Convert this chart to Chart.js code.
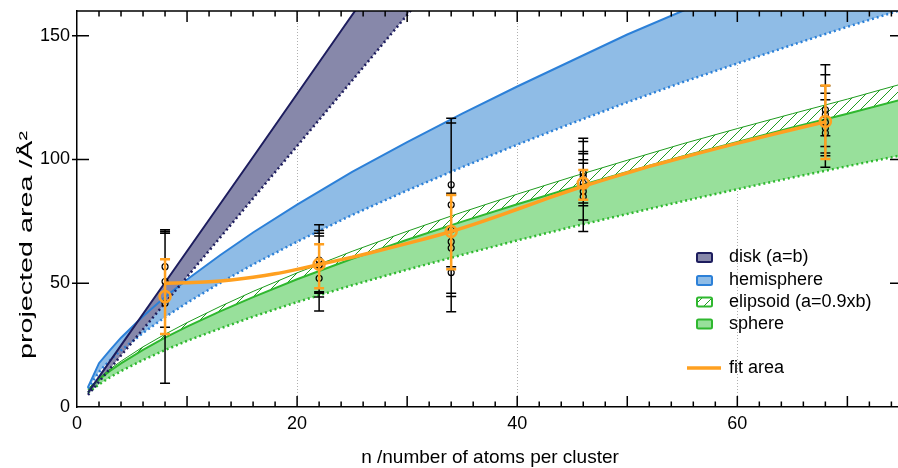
<!DOCTYPE html>
<html>
<head>
<meta charset="utf-8">
<script src="https://cdn.jsdelivr.net/npm/chart.js@4.4.1/dist/chart.umd.min.js"></script>
<style>
  html, body { margin: 0; padding: 0; background: #fff; overflow: hidden; }
  #wrap { width: 898px; height: 468px; overflow: hidden; }
</style>
</head>
<body>
<!-- canvas is 8px wider than the view: the orange markers reserve 8px of right padding -->
<div id="wrap"><canvas id="areaChart" width="906" height="468"></canvas></div>
<script>
// model bands (projected area vs cluster size)
const bandN = [1, 2, 3, 4, 6, 8, 10, 13, 16, 20, 25, 30, 35, 40, 45, 50, 55, 60, 65, 70, 75];
const hemiUpper = [8, 17.7, 23, 28, 36.7, 44.4, 51.5, 61.3, 70.5, 81.8, 95, 107, 118.5, 129.5, 140, 150.5, 160, 169, 178, 187, 195.5];
const hemiLower = [7.5, 14.2, 18.9, 22.9, 29.9, 36.3, 42.1, 50.1, 57.6, 66.8, 77.6, 87.5, 96.9, 106, 114.7, 123.1, 131.2, 138.8, 146.3, 153.6, 160.6];
const ellipUpper = [7.3, 11.7, 15.3, 18.5, 24.3, 29.4, 34.1, 40.6, 46.7, 54.2, 62.9, 71, 78.7, 86, 93, 99.7, 106.3, 112.5, 118.5, 124.4, 130.6];
const sphereUpper = [7, 11.1, 14.6, 17.6, 23.1, 28, 32.5, 38.6, 44.4, 51.6, 59.9, 67.6, 74.9, 81.9, 88.6, 95, 101.2, 107.1, 112.9, 118.5, 124.3];
const sphereLower = [5.8, 9.1, 12, 14.5, 19, 23, 26.7, 31.7, 36.5, 42.4, 49.2, 55.5, 61.5, 67.3, 72.8, 78, 83.1, 88, 92.7, 97.3, 101.8];

const diskN = [1, 2, 4, 8, 16, 24, 32];
const diskUpper = [5.8, 12.2, 24.9, 50.3, 101, 152, 203];
const diskLower = [4.9, 10.2, 20.8, 42, 84.3, 126.6, 169];

// fitted area curve
const fitN = [8, 10, 12, 14, 16, 18, 20, 22, 25, 28, 31, 34, 37, 40, 43, 46, 49, 52, 55, 58, 61, 64, 68];
const fitArea = [50, 50.2, 50.6, 51.3, 52.4, 53.8, 55.6, 57.6, 60.5, 63.8, 67.2, 70.9, 75.2, 79.9, 84.7, 89.2, 93.3, 97.2, 100.8, 104.3, 107.7, 111, 115.2];

// averaged clusters (orange)
const clusterN = [8, 22, 34, 46, 68];
const meanArea = [44.6, 57.7, 70.9, 90.4, 115.4];
const meanLow = [29.5, 48, 55.7, 83.7, 100.2];
const meanHigh = [59.7, 65.8, 85.7, 95.8, 129.9];

// single clusters (black)
const pointN = [8, 8, 8, 22, 22, 22, 22, 34, 34, 34, 34, 34, 34, 46, 46, 46, 46, 46, 46, 68, 68, 68, 68, 68];
const pointArea = [56.7, 50.7, 41.9, 59.4, 57.4, 57, 52, 89.8, 81.7, 71.6, 66.8, 64.2, 54.3, 94.5, 93.1, 90.4, 89, 87.1, 85, 120.1, 118.1, 115, 112.7, 110.7];
const pointLow = [32.2, 29.4, 9.6, 44.4, 46, 46.6, 38.8, 44.6, 46, 56.7, 38.5, 46, 38.5, 81.3, 75.6, 70.9, 81.3, 75.6, 82.4, 101.5, 105.3, 109.6, 96.9, 102.6];
const pointHigh = [70.9, 70.2, 71.6, 73.6, 70.2, 69.1, 71.3, 116.7, 114.7, 86.4, 86.4, 85.7, 86.4, 108.6, 107.3, 103.2, 102.3, 99.9, 98.5, 138.3, 134.2, 129.8, 126.8, 124.1];

const xTickLabels = [0, 20, 40, 60];
const yTickLabels = [0, 50, 100, 150];
const gridX = [20, 40, 60];
const seriesLabels = ['disk (a=b)', 'hemisphere', 'elipsoid (a=0.9xb)', 'sphere', 'fit area'];
const xTitle = 'n /number of atoms per cluster';
const yTitle = 'projected area /Å²';

const FONT = '"Liberation Sans", Arial, sans-serif';
const navy = '#1d1d5e', diskFill = '#8788aa';
const blue = '#2c80d8', hemiFill = '#8fbce6';
const green = '#2fb82f', sphereFill = '#98e09b', hatchGreen = '#1f9c1f';
const orange = '#ffa020';

function pts(xs, ys) {
    return xs.map((x, i) => ({ x: x, y: ys[i] }));
}

function hatchPattern() {
    const c = document.createElement('canvas');
    c.width = 10;
    c.height = 10;
    const g = c.getContext('2d');
    g.fillStyle = '#ffffff';
    g.fillRect(0, 0, 10, 10);
    g.strokeStyle = hatchGreen;
    g.lineWidth = 1;
    g.beginPath();
    g.moveTo(0, 10); g.lineTo(10, 0);
    g.moveTo(-5, 5); g.lineTo(5, -5);
    g.moveTo(5, 15); g.lineTo(15, 5);
    g.stroke();
    return g.createPattern(c, 'repeat');
}
const hatch = hatchPattern();

function drawBars(chart, xs, lows, highs, color, width, cap) {
    const ctx = chart.ctx;
    const sx = chart.scales.x, sy = chart.scales.y;
    ctx.save();
    ctx.strokeStyle = color;
    ctx.lineWidth = width;
    ctx.beginPath();
    xs.forEach((n, i) => {
        const px = sx.getPixelForValue(n);
        const top = sy.getPixelForValue(highs[i]);
        const bot = sy.getPixelForValue(lows[i]);
        ctx.moveTo(px, top); ctx.lineTo(px, bot);
        ctx.moveTo(px - cap, top); ctx.lineTo(px + cap, top);
        ctx.moveTo(px - cap, bot); ctx.lineTo(px + cap, bot);
    });
    ctx.stroke();
    ctx.restore();
}

const framePlugin = {
    id: 'frame',
    beforeDraw(chart) {
        const { ctx, chartArea } = chart;
        const sx = chart.scales.x;
        ctx.save();
        ctx.strokeStyle = '#b0b0b0';
        ctx.lineWidth = 1;
        ctx.setLineDash([1, 2]);
        gridX.forEach(n => {
            const px = Math.round(sx.getPixelForValue(n)) + 0.5;
            ctx.beginPath();
            ctx.moveTo(px, chartArea.top);
            ctx.lineTo(px, chartArea.bottom);
            ctx.stroke();
        });
        ctx.restore();
    },
    beforeDatasetDraw(chart, args) {
        const ds = chart.data.datasets[args.index];
        if (ds.errLow) {
            drawBars(chart, ds.data.map(p => p.x), ds.errLow, ds.errHigh, ds.errColor, ds.errWidth, 5);
        }
    },
    afterDraw(chart) {
        const { ctx, chartArea } = chart;
        const sx = chart.scales.x, sy = chart.scales.y;
        const { left, right, top, bottom } = chartArea;
        ctx.save();
        ctx.strokeStyle = '#000';
        ctx.lineWidth = 1.5;
        ctx.beginPath();
        ctx.moveTo(left, top);
        ctx.lineTo(right, top);
        // x ticks, bottom and top, pointing inwards
        for (let n = 2; n <= 74; n += 2) {
            const px = sx.getPixelForValue(n);
            const len = n % 10 === 0 ? 11 : 5.5;
            ctx.moveTo(px, bottom); ctx.lineTo(px, bottom - len);
            ctx.moveTo(px, top); ctx.lineTo(px, top + len);
        }
        yTickLabels.forEach(v => {
            if (v === 0) return;
            const py = sy.getPixelForValue(v);
            ctx.moveTo(left - 5, py); ctx.lineTo(left + 12, py);
            ctx.moveTo(right - 8, py); ctx.lineTo(right, py);
        });
        ctx.stroke();

        // axis titles
        ctx.fillStyle = '#000';
        ctx.textAlign = 'center';
        ctx.textBaseline = 'middle';
        ctx.font = '19px ' + FONT;
        ctx.fillText(xTitle, 490, 458);
        ctx.save();
        ctx.translate(27, 245);
        ctx.rotate(-Math.PI / 2);
        ctx.font = '19px ' + FONT;
        const w = ctx.measureText(yTitle).width;
        ctx.scale(228 / w, 1);
        ctx.fillText(yTitle, 0, 0);
        ctx.restore();

        // legend
        const rows = [
            { y: 257.5, fill: diskFill, stroke: navy },
            { y: 280.5, fill: hemiFill, stroke: blue },
            { y: 302, fill: hatch, stroke: green },
            { y: 324, fill: sphereFill, stroke: green }
        ];
        ctx.font = '18px ' + FONT;
        ctx.textAlign = 'left';
        rows.forEach((r, i) => {
            ctx.beginPath();
            ctx.roundRect(697, r.y - 4.5, 15, 9, 1.5);
            ctx.fillStyle = r.fill;
            ctx.fill();
            ctx.lineWidth = 2;
            ctx.strokeStyle = r.stroke;
            ctx.stroke();
            ctx.fillStyle = '#000';
            ctx.fillText(seriesLabels[i], 729, r.y);
        });
        ctx.beginPath();
        ctx.strokeStyle = orange;
        ctx.lineWidth = 3.5;
        ctx.moveTo(687, 368);
        ctx.lineTo(721, 368);
        ctx.stroke();
        ctx.fillStyle = '#000';
        ctx.fillText(seriesLabels[4], 729, 368);
        ctx.restore();
    }
};

const band = { pointRadius: 0, tension: 0, order: 3, clip: 0 };

new Chart(document.getElementById('areaChart'), {
    type: 'line',
    data: {
        datasets: [
            Object.assign({ data: pts(diskN, diskUpper), borderColor: navy, borderWidth: 2, backgroundColor: diskFill, fill: '+1' }, band),
            Object.assign({ data: pts(diskN, diskLower), borderColor: navy, borderWidth: 2.5, borderDash: [2, 3], fill: false }, band),
            Object.assign({ data: pts(bandN, hemiUpper), borderColor: blue, borderWidth: 2, backgroundColor: hemiFill, fill: '+1' }, band),
            Object.assign({ data: pts(bandN, hemiLower), borderColor: blue, borderWidth: 2.5, borderDash: [2, 3], fill: false }, band),
            Object.assign({ data: pts(bandN, ellipUpper), borderColor: hatchGreen, borderWidth: 1, backgroundColor: hatch, fill: '+1' }, band),
            Object.assign({ data: pts(bandN, sphereUpper), borderColor: green, borderWidth: 2, backgroundColor: sphereFill, fill: '+1' }, band),
            Object.assign({ data: pts(bandN, sphereLower), borderColor: green, borderWidth: 2.5, borderDash: [2, 3], fill: false }, band),
            {
                data: pts(fitN, fitArea), borderColor: orange, borderWidth: 3.5, pointRadius: 0,
                fill: false, tension: 0.2, order: 1
            },
            {
                data: pts(pointN, pointArea), showLine: false, pointRadius: 3, pointBorderWidth: 1.2,
                pointBorderColor: '#000', pointBackgroundColor: 'rgba(0,0,0,0)', order: 2,
                errLow: pointLow, errHigh: pointHigh, errColor: '#000', errWidth: 1.5
            },
            {
                data: pts(clusterN, meanArea), showLine: false, pointRadius: 5.5, pointBorderWidth: 2.5,
                pointBorderColor: orange, pointBackgroundColor: 'rgba(0,0,0,0)', order: 0,
                errLow: meanLow, errHigh: meanHigh, errColor: orange, errWidth: 2.5
            }
        ]
    },
    options: {
        responsive: false,
        devicePixelRatio: 1,
        animation: false,
        events: [],
        layout: { padding: { top: 11, right: 0, left: 0, bottom: 0 } },
        plugins: {
            legend: { display: false },
            tooltip: { enabled: false },
            filler: { drawTime: 'beforeDatasetsDraw' }
        },
        scales: {
            x: {
                type: 'linear',
                min: 0,
                max: 74.6,
                afterFit: s => { s.height = 61; s.paddingLeft = 0; s.paddingRight = 0; },
                grid: { display: false, drawTicks: false },
                border: { color: '#000', width: 1.5 },
                ticks: {
                    stepSize: 20, autoSkip: false, maxRotation: 0, padding: 6, color: '#000',
                    font: { size: 18, family: FONT },
                    callback: v => xTickLabels.includes(v) ? String(v) : ''
                }
            },
            y: {
                type: 'linear',
                min: 0,
                max: 160,
                afterFit: s => { s.width = 77; s.paddingTop = 0; s.paddingBottom = 0; },
                grid: { display: false, drawTicks: false },
                border: { color: '#000', width: 1.5 },
                ticks: {
                    stepSize: 50, autoSkip: false, padding: 7, color: '#000',
                    font: { size: 18, family: FONT },
                    callback: v => yTickLabels.includes(v) ? String(v) : ''
                }
            }
        }
    },
    plugins: [framePlugin]
});
</script>
</body>
</html>
